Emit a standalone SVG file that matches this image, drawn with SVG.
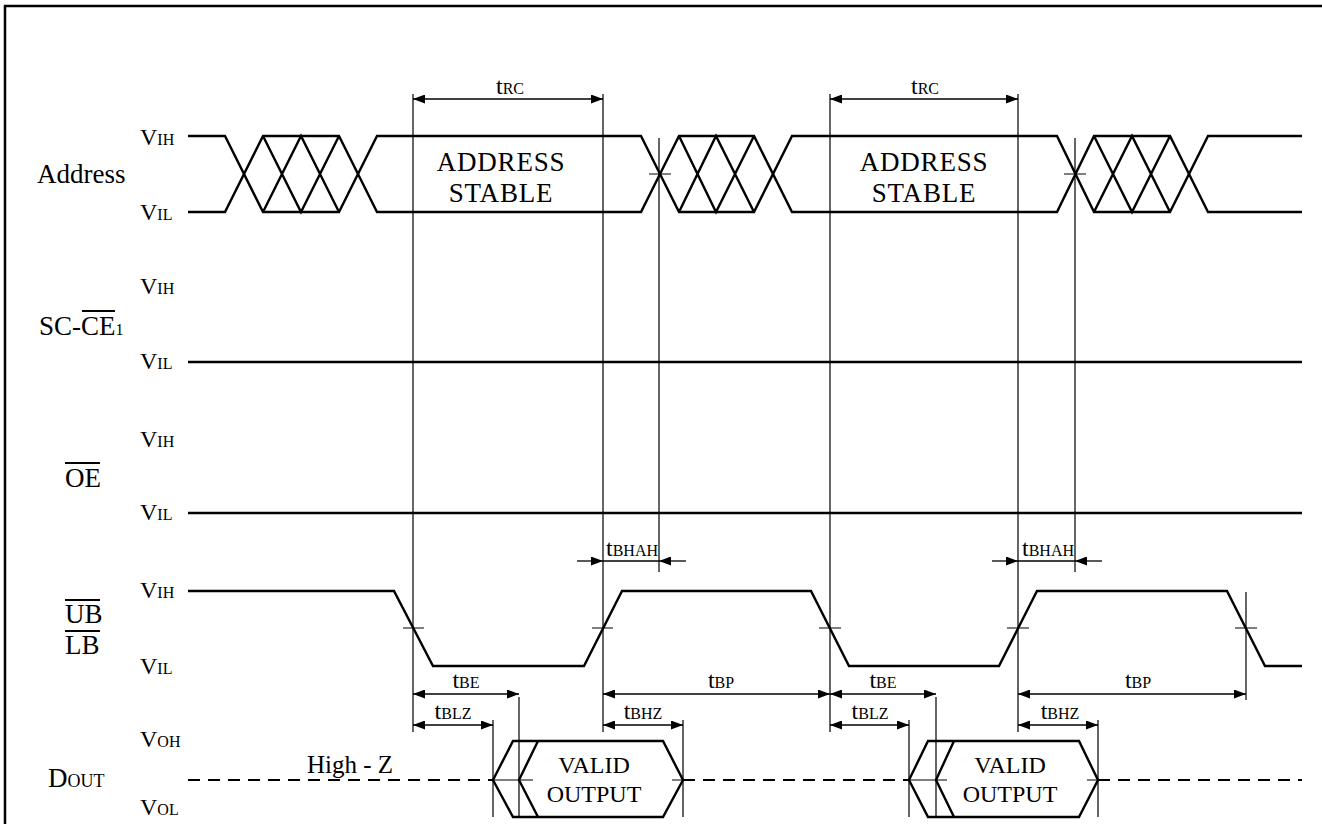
<svg xmlns="http://www.w3.org/2000/svg" width="1322" height="824" viewBox="0 0 1322 824" font-family="'Liberation Serif','Times New Roman',serif">
<style>
text{font-family:"Liberation Serif","Times New Roman",serif;fill:#000}
.lbl{font-size:27px}
.v{font-size:24px}
.s{font-size:16px}
.s2{font-size:18px}
.big{font-size:27px;letter-spacing:0.8px}
.mid{font-size:24px}
.hz{font-size:25px}
.wave{fill:none;stroke:#000;stroke-width:2.4;stroke-linejoin:miter}
.thin{fill:none;stroke:#000;stroke-width:1.2}
.ol{stroke:#000;stroke-width:2}
.dash{fill:none;stroke:#000;stroke-width:2;stroke-dasharray:12 8}
.dim{fill:none;stroke:#000;stroke-width:1.3}
.ar{marker-start:url(#ah);marker-end:url(#ah)}
.ae{marker-end:url(#ah)}
</style>
<defs>
<marker id="ah" viewBox="0 0 12 9" refX="12" refY="4.5" markerWidth="12" markerHeight="9" markerUnits="userSpaceOnUse" orient="auto-start-reverse">
<path d="M0,0 L12,4.5 L0,9 Z" fill="#000"/>
</marker>
</defs>
<rect x="5" y="6" width="1330" height="830" fill="none" stroke="#000" stroke-width="2.5"/>

<g id="address">
<text class="lbl" x="37" y="183">Address</text>
<text class="v" x="140" y="145">V<tspan class="s">IH</tspan></text>
<text class="v" x="140" y="220">V<tspan class="s">IL</tspan></text>
<path class="wave" d="M188,136 H225 L263,212 H339 L377,136 H641 L679,212 H754 L792,136 H1057 L1094,212 H1170 L1208,136 H1302"/>
<path class="wave" d="M188,212 H225 L263,136 H339 L377,212 H641 L679,136 H754 L792,212 H1057 L1094,136 H1170 L1208,212 H1302"/>
<path class="wave" d="M263,136 L301,212 L339,136 M263,212 L301,136 L339,212 M679,136 L716,212 L754,136 M679,212 L716,136 L754,212 M1094,136 L1132,212 L1170,136 M1094,212 L1132,136 L1170,212"/>
<text class="big" x="501" y="171" text-anchor="middle">ADDRESS</text>
<text class="big" x="501" y="202" text-anchor="middle">STABLE</text>
<text class="big" x="924" y="171" text-anchor="middle">ADDRESS</text>
<text class="big" x="924" y="202" text-anchor="middle">STABLE</text>
</g>

<g id="sc-ce1">
<text class="lbl" x="39" y="335">SC-CE<tspan class="s">1</tspan></text>
<line class="ol" x1="82" y1="311" x2="115" y2="311"/>
<text class="v" x="140" y="294">V<tspan class="s">IH</tspan></text>
<text class="v" x="140" y="369">V<tspan class="s">IL</tspan></text>
<line class="wave" x1="188" y1="362" x2="1302" y2="362"/>
</g>

<g id="oe">
<text class="lbl" x="65" y="487">OE</text>
<line class="ol" x1="65" y1="463" x2="100" y2="463"/>
<text class="v" x="140" y="447">V<tspan class="s">IH</tspan></text>
<text class="v" x="140" y="520">V<tspan class="s">IL</tspan></text>
<line class="wave" x1="188" y1="513" x2="1302" y2="513"/>
</g>

<g id="ub-lb">
<text class="lbl" x="65" y="623">UB</text>
<line class="ol" x1="65" y1="600" x2="100" y2="600"/>
<text class="lbl" x="65" y="654">LB</text>
<line class="ol" x1="65" y1="631" x2="100" y2="631"/>
<text class="v" x="140" y="598">V<tspan class="s">IH</tspan></text>
<text class="v" x="140" y="674">V<tspan class="s">IL</tspan></text>
<path class="wave" d="M188,591 H394 L433,666 H584 L622,591 H811 L849,666 H999 L1037,591 H1227 L1265,666 H1302"/>
<path class="thin" d="M403,628 H424 M592,628 H613 M819,628 H841 M1007,628 H1029 M1235,628 H1257"/>
</g>

<g id="dout">
<text class="lbl" x="48" y="787">D<tspan class="s2">OUT</tspan></text>
<text class="v" x="140" y="747">V<tspan class="s">OH</tspan></text>
<text class="v" x="140" y="815">V<tspan class="s">OL</tspan></text>
<path class="dash" d="M188,780 H493 M683,780 H909 M1098,780 H1302"/>
<path class="wave" d="M493,780 L513,741 H663 L683,780 L663,817 H513 Z"/>
<path class="wave" d="M538,741 L519,780 L538,817"/>
<path class="wave" d="M909,780 L928,741 H1079 L1098,780 L1079,817 H928 Z"/>
<path class="wave" d="M954,741 L936,780 L954,817"/>
<path class="thin" d="M493,780 H533 M672,780 H683 M909,780 H947 M1087,780 H1098"/>
<text class="hz" x="307" y="773">High - Z</text>
<text class="mid" x="594" y="773" text-anchor="middle">VALID</text>
<text class="mid" x="594" y="802" text-anchor="middle">OUTPUT</text>
<text class="mid" x="1010" y="773" text-anchor="middle">VALID</text>
<text class="mid" x="1010" y="802" text-anchor="middle">OUTPUT</text>
</g>

<g id="connectors">
<path class="thin" d="M413,94 V732 M603,94 V732 M830,94 V732 M1018,94 V732 M659,138 V572 M1075,138 V572 M1246,592 V700 M493,720 V817 M519,697 V817 M683,720 V817 M909,720 V817 M936,697 V817 M1098,720 V817 M649,174 H671 M1064,174 H1086"/>
<line class="dim ar" x1="413" y1="99" x2="603" y2="99"/>
<line class="dim ar" x1="830" y1="99" x2="1018" y2="99"/>
<text class="v" x="510" y="94" text-anchor="middle">t<tspan class="s">RC</tspan></text>
<text class="v" x="925" y="94" text-anchor="middle">t<tspan class="s">RC</tspan></text>
<line class="dim ae" x1="577" y1="561" x2="603" y2="561"/>
<line class="dim ae" x1="686" y1="561" x2="659" y2="561"/>
<line class="dim" x1="603" y1="561" x2="659" y2="561"/>
<line class="dim ae" x1="992" y1="561" x2="1018" y2="561"/>
<line class="dim ae" x1="1102" y1="561" x2="1075" y2="561"/>
<line class="dim" x1="1018" y1="561" x2="1075" y2="561"/>
<text class="v" x="606" y="556">t<tspan class="s">BHAH</tspan></text>
<text class="v" x="1022" y="556">t<tspan class="s">BHAH</tspan></text>
<line class="dim ar" x1="413" y1="694" x2="519" y2="694"/>
<line class="dim ar" x1="830" y1="694" x2="936" y2="694"/>
<line class="dim ar" x1="413" y1="725" x2="493" y2="725"/>
<line class="dim ar" x1="830" y1="725" x2="909" y2="725"/>
<line class="dim ar" x1="603" y1="694" x2="830" y2="694"/>
<line class="dim ar" x1="1018" y1="694" x2="1246" y2="694"/>
<line class="dim ar" x1="603" y1="725" x2="683" y2="725"/>
<line class="dim ar" x1="1018" y1="725" x2="1098" y2="725"/>
<text class="v" x="466" y="688" text-anchor="middle">t<tspan class="s">BE</tspan></text>
<text class="v" x="883" y="688" text-anchor="middle">t<tspan class="s">BE</tspan></text>
<text class="v" x="721" y="688" text-anchor="middle">t<tspan class="s">BP</tspan></text>
<text class="v" x="1138" y="688" text-anchor="middle">t<tspan class="s">BP</tspan></text>
<text class="v" x="453" y="719" text-anchor="middle">t<tspan class="s">BLZ</tspan></text>
<text class="v" x="870" y="719" text-anchor="middle">t<tspan class="s">BLZ</tspan></text>
<text class="v" x="643" y="719" text-anchor="middle">t<tspan class="s">BHZ</tspan></text>
<text class="v" x="1060" y="719" text-anchor="middle">t<tspan class="s">BHZ</tspan></text>
</g>
</svg>
